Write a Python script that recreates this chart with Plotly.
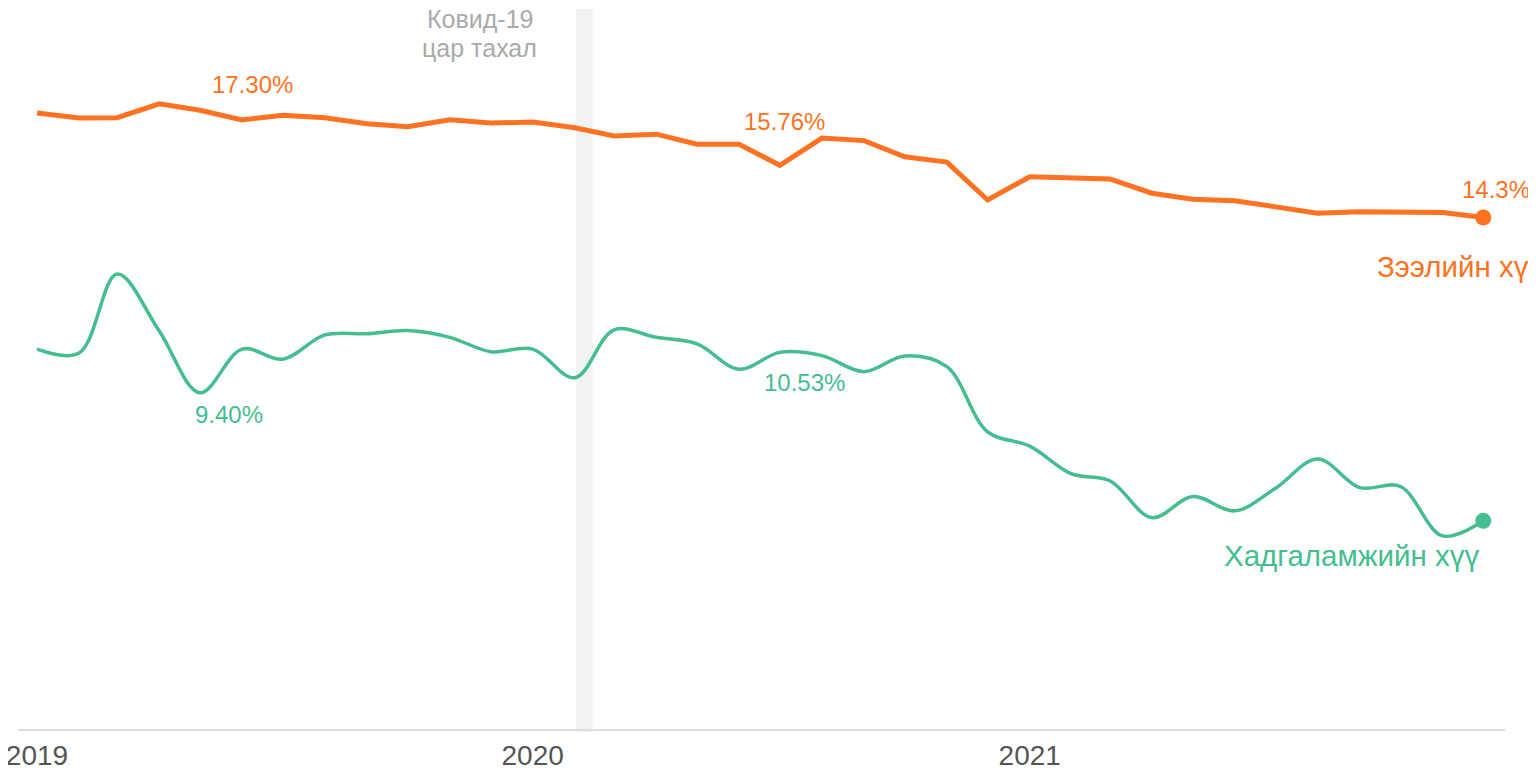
import plotly.graph_objects as go

months = [f"{y}-{m:02d}-01" for y in (2019, 2020, 2021) for m in range(1, 13)]

loan_rate = [17.22, 17.08, 17.09, 17.48, 17.30, 17.03, 17.16, 17.09, 16.92, 16.84, 17.03, 16.94,
             16.97, 16.81, 16.58, 16.63, 16.35, 16.35, 15.76, 16.52, 16.45, 16.00, 15.85, 14.79,
             15.44, 15.42, 15.38, 14.98, 14.81, 14.77, 14.60, 14.42, 14.46, 14.45, 14.44, 14.30]

deposit_rate = [10.62, 10.51, 12.72, 11.13, 9.40, 10.62, 10.34, 11.02, 11.05, 11.14, 10.95, 10.55,
                10.62, 9.82, 11.16, 10.95, 10.77, 10.06, 10.53, 10.44, 9.99, 10.43, 10.13, 8.31,
                7.91, 7.13, 6.94, 5.91, 6.50, 6.10, 6.73, 7.55, 6.75, 6.78, 5.40, 5.82]

tick_vals = ["2019-01-01", "2020-01-01", "2021-01-01"]
tick_text = ["2019", "2020", "2021"]

loan_name = "Зээлийн хүү"
deposit_name = "Хадгаламжийн хүү"
covid_lines = ["Ковид-19", "цар тахал"]
covid_start, covid_end = "2020-02-02", "2020-02-14"

ORANGE = "#FF7221"
GREEN = "#44BD8F"
FONT = "Liberation Sans, Arial, sans-serif"

fig = go.Figure()

fig.add_shape(type="rect", xref="x", yref="paper", x0=covid_start, x1=covid_end,
              y0=-0.004, y1=1, fillcolor="#f2f2f2", line_width=0, layer="below")

fig.add_trace(go.Scatter(x=months, y=loan_rate, mode="lines",
                         line=dict(color=ORANGE, width=5), hoverinfo="skip"))
fig.add_trace(go.Scatter(x=months, y=deposit_rate, mode="lines",
                         line=dict(color=GREEN, width=3.5, shape="spline", smoothing=1),
                         hoverinfo="skip"))
fig.add_trace(go.Scatter(x=[months[-1]], y=[loan_rate[-1]], mode="markers",
                         marker=dict(color=ORANGE, size=16), hoverinfo="skip"))
fig.add_trace(go.Scatter(x=[months[-1]], y=[deposit_rate[-1]], mode="markers",
                         marker=dict(color=GREEN, size=16), hoverinfo="skip"))

def label(i, series, text, color, xs, ys, size=24, xanchor="center"):
    fig.add_annotation(x=months[i], y=series[i], xref="x", yref="y", text=text,
                       showarrow=False, xshift=xs, yshift=ys, xanchor=xanchor,
                       yanchor="middle", font=dict(color=color, size=size, family=FONT))

label(4, loan_rate, f"{loan_rate[4]:.2f}%", ORANGE, 53, 26)
label(18, loan_rate, f"{loan_rate[18]:.2f}%", ORANGE, 5, 44)
label(35, loan_rate, f"{loan_rate[35]:.1f}%", ORANGE, 13, 28)
label(35, loan_rate, loan_name, ORANGE, -108, -49, size=29.5, xanchor="left")
label(4, deposit_rate, f"{deposit_rate[4]:.2f}%", GREEN, 29, -22)
label(18, deposit_rate, f"{deposit_rate[18]:.2f}%", GREEN, 25, -30)
label(35, deposit_rate, deposit_name, GREEN, -2, -35, size=29.5, xanchor="right")

for line_text, ypos in zip(covid_lines, [0.9865, 0.9465]):
    fig.add_annotation(x="2019-11-23", y=ypos, xref="x", yref="paper", text=line_text,
                       showarrow=False, xanchor="center", yanchor="middle",
                       font=dict(color="#aaaaaa", size=25, family=FONT))

fig.update_layout(
    width=1528, height=767,
    margin=dict(l=10, r=31, t=1, b=46, autoexpand=False),
    paper_bgcolor="white", plot_bgcolor="white",
    showlegend=False,
    font=dict(family=FONT),
    xaxis=dict(type="date", range=["2018-12-18", "2021-12-17"],
               tickvals=tick_vals, ticktext=tick_text, ticklabeloverflow="allow",
               automargin=False,
               showgrid=False, zeroline=False, showline=True,
               linecolor="#dddddd", linewidth=2, ticks="",
               tickfont=dict(size=28, color="#555555", family=FONT)),
    yaxis=dict(range=[0, 20.13], visible=False, showgrid=False, zeroline=False),
)

fig.write_html("out.html")
